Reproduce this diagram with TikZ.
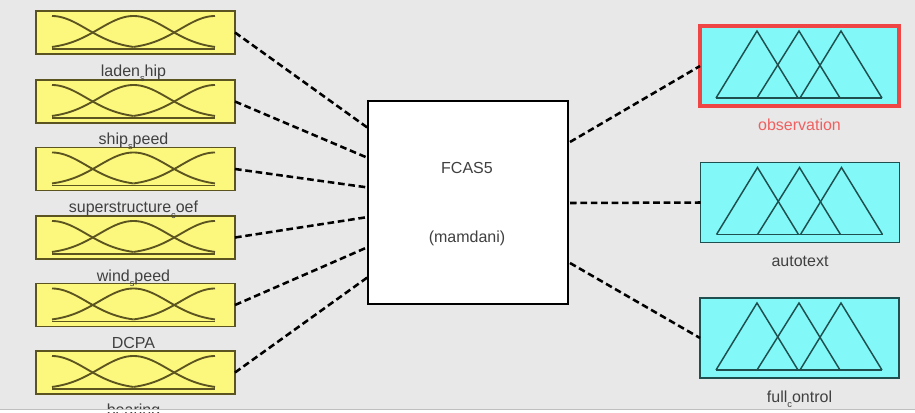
\documentclass[tikz,border=0pt]{standalone}
\usepackage{fontspec}
\setmainfont{Liberation Sans}
\usetikzlibrary{calc}
\definecolor{bgc}{HTML}{E8E8E8}
\definecolor{yelfill}{HTML}{FCF87E}
\definecolor{oliveln}{HTML}{5C5420}
\definecolor{cyanfill}{HTML}{82F8F8}
\definecolor{tealln}{HTML}{1F4F4F}
\definecolor{redc}{HTML}{F04545}
\definecolor{redtxt}{HTML}{F06060}
\definecolor{txtc}{HTML}{404040}
\newcommand\mysub[1]{\raisebox{-0.7ex}{\fontsize{7}{7}\selectfont #1}}
\begin{document}
\begin{tikzpicture}[x=0.75pt,y=-0.75pt,
  inbox/.style={draw=oliveln, fill=yelfill, line width=1.3pt, minimum width=149.25pt, minimum height=32.25pt, inner sep=0pt, outer sep=0pt},
  outbox/.style={draw=tealln, fill=cyanfill, line width=1.3pt, minimum width=149.25pt, minimum height=60pt, inner sep=0pt, outer sep=0pt},
  fisbox/.style={draw=black, fill=white, line width=1.6pt, minimum width=150pt, minimum height=152.25pt, inner sep=0pt, outer sep=0pt},
  lbl/.style={text=txtc, font=\fontsize{12}{14}\selectfont, inner sep=0pt, text height=8.6pt, text depth=2.5pt},
  conn/.style={draw=black, line width=1.9pt, dash pattern=on 5pt off 2.8pt},
  mfline/.style={draw=oliveln, line width=1.4pt},
  triline/.style={draw=tealln, line width=1.1pt, line join=miter},
  gauss/.pic={
    \draw[mfline] plot[domain=16:97.5, samples=40] (\x,{38-33*exp(-(\x-16)*(\x-16)/2394)});
    \draw[mfline] plot[domain=16:179, samples=70] (\x,{38-33*exp(-(\x-97.5)*(\x-97.5)/2394)});
    \draw[mfline] plot[domain=97.5:179, samples=40] (\x,{38-33*exp(-(\x-179)*(\x-179)/2394)});
    \draw[mfline] (16,38) -- (179,38);
  },
  tris/.pic={
    \draw[triline] (16,72) -- (57,5) -- (98,72);
    \draw[triline] (57,72) -- (99,5) -- (140,72);
    \draw[triline] (100,72) -- (141,5) -- (182,72);
    \draw[triline] (16,72) -- (182,72);
  }
]
\useasboundingbox (0,0) rectangle (915,412);
\fill[white] (0,0) rectangle (915,412);
\fill[bgc] (0,0) rectangle (915,409);

% input boxes
\node[inbox] (in1) at (135.5,32.5) {};
\node[inbox] (in2) at (135.5,101.5) {};
\node[inbox] (in3) at (135.5,169) {};
\node[inbox] (in4) at (135.5,237.5) {};
\node[inbox] (in5) at (135.5,305) {};
\node[inbox] (in6) at (135.5,372.5) {};
\foreach \n in {in1,in2,in3,in4,in5,in6}{
  \pic at (\n.north west) {gauss};
}

% input labels
\node[lbl] (t1) at ($(in1.south)+(-2,18)$) {laden\mysub{s}hip};
\node[lbl] (t2) at ($(in2.south)+(-2,17)$) {ship\mysub{s}peed};
\node[lbl] (t3) at ($(in3.south)+(-2,18)$) {superstructure\mysub{c}oef};
\node[lbl] (t4) at ($(in4.south)+(-2,18)$) {wind\mysub{s}peed};
\node[lbl] (t5) at ($(in5.south)+(-2,18)$) {DCPA};
\node[lbl] (t6) at ($(in6.south)+(-2,17)$) {bearing};

% FIS box
\node[fisbox] (fis) at (468,202.5) {};
\node[lbl] (fname) at (467,169) {FCAS5};
\node[lbl] (ftype) at (467,238) {(mamdani)};

% output boxes
\node[outbox, draw=redc, line width=2.6pt] (o1) at (799.5,66) {};
\node[outbox] (o2) at (800,202.5) {};
\node[outbox] (o3) at (799.5,338) {};
\foreach \n in {o1,o2,o3}{
  \pic at (\n.north west) {tris};
}
\node[lbl, text=redtxt] (u1) at ($(o1.south)+(0,20)$) {observation};
\node[lbl] (u2) at ($(o2.south)+(0,20)$) {autotext};
\node[lbl] (u3) at ($(o3.south)+(0,20)$) {full\mysub{c}ontrol};

% connector endpoints
\coordinate (fl1) at ($(fis.north west)+(0,27)$);
\coordinate (fl2) at ($(fis.north west)+(0,57)$);
\coordinate (fl3) at ($(fis.north west)+(0,86.5)$);
\coordinate (fl4) at ($(fis.north west)+(0,116)$);
\coordinate (fl5) at ($(fis.north west)+(0,146)$);
\coordinate (fl6) at ($(fis.north west)+(0,176)$);
\coordinate (fr1) at ($(fis.north east)+(2,41)$);
\coordinate (fr2) at ($(fis.north east)+(2,102)$);
\coordinate (fr3) at ($(fis.north east)+(2,162)$);

\draw[conn] (in1.east) -- (fl1);
\draw[conn] (in2.east) -- (fl2);
\draw[conn] (in3.east) -- (fl3);
\draw[conn] (in4.east) -- (fl4);
\draw[conn] (in5.east) -- (fl5);
\draw[conn] (in6.east) -- (fl6);
\draw[conn] (fr1) -- (o1.west);
\draw[conn] (fr2) -- (o2.west);
\draw[conn] (fr3) -- (o3.west);

% bottom edge
\fill[white] (0,409.5) rectangle (915,412);
\draw[draw=black!25, line width=0.6pt] (0,409.5) -- (915,409.5);
\end{tikzpicture}
\end{document}
